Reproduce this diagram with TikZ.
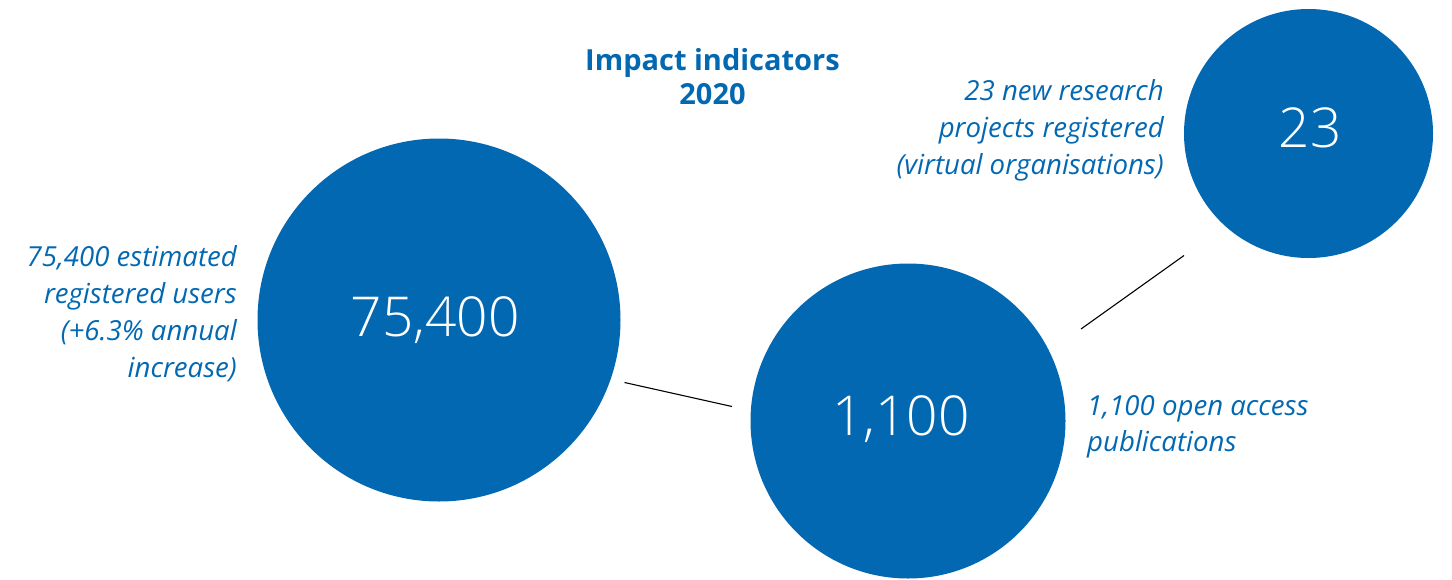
\documentclass[tikz,border=0pt]{standalone}
\usepackage{fontspec}
\setmainfont{Open Sans}
\IfFontExistsTF{Open Sans Light}{\newfontfamily\numfont{Open Sans Light}}{\newfontfamily\numfont{Open Sans}}
\definecolor{ibblue}{RGB}{3,104,178}
\begin{document}
\begin{tikzpicture}[x=1pt,y=-1pt,
  bubble/.style={circle,fill=ibblue,draw=none,inner sep=0pt},
  num/.style={anchor=base,text=white,inner sep=0pt,font=\numfont\fontsize{55}{60}\selectfont},
  lbl/.style={text=ibblue,inner sep=0pt,font=\fontsize{27.6}{37}\selectfont\itshape},
  ttl/.style={anchor=base,text=ibblue,inner sep=0pt,font=\fontsize{29}{34}\selectfont\bfseries},
  link/.style={draw=black,line width=1.1pt}]
\useasboundingbox (0,0) rectangle (1452,579);
% circles
\node[bubble,minimum size=363pt] (big) at (439,320) {};
\node[bubble,minimum size=315pt] (mid) at (908,421) {};
\node[bubble,minimum size=249pt] (small) at (1308.5,133.5) {};
% numbers
\node[num] (bignum) at (435,336) {75,400};
\node[num] (midnum) at (901,435) {1,100};
\node[num] (smallnum) at (1310,147) {23};
% title
\node[ttl] (title1) at (712.5,70) {Impact indicators};
\node[ttl] (title2) at (712.5,104) {2020};
% left label
\node[lbl,anchor=base east] (la) at (237,266) {75,400 estimated};
\node[lbl,anchor=base east] (lb) at (237,303) {registered users};
\node[lbl,anchor=base east] (lc) at (237,340) {(+6.3\% annual};
\node[lbl,anchor=base east] (ld) at (237,377) {increase)};
% top right label
\node[lbl,anchor=base east] (ra) at (1164,100.5) {23 new research};
\node[lbl,anchor=base east] (rb) at (1164,137.5) {projects registered};
\node[lbl,anchor=base east] (rc) at (1164,174.5) {(virtual organisations)};
% lower right label
\node[lbl,anchor=base west] (pa) at (1087,415) {1,100 open access};
\node[lbl,anchor=base west] (pb) at (1087,451) {publications};
% connectors
\coordinate (c1a) at (624.5,382.5);
\coordinate (c1b) at (732,406.5);
\coordinate (c2a) at (1081,329);
\coordinate (c2b) at (1184,255.5);
\draw[link] (c1a) -- (c1b);
\draw[link] (c2a) -- (c2b);
\end{tikzpicture}
\end{document}
